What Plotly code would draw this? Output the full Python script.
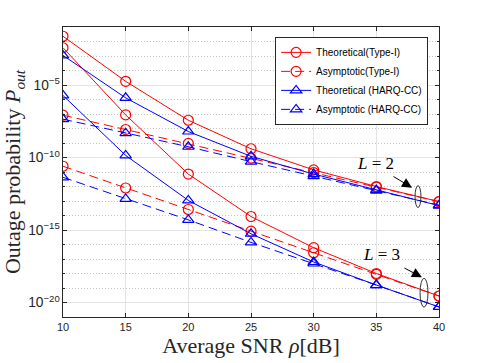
import plotly.graph_objects as go

snr_db = [10, 15, 20, 25, 30, 35, 40]

# outage probability
theo_type1_L2 = [2.3e-2, 1.8e-5, 3.7e-8, 4.0e-10, 1.4e-11, 1.0e-12, 9.1e-14]
theo_type1_L3 = [3.7e-3, 8.7e-8, 7.2e-12, 8.5e-15, 6.0e-17, 1.0e-18, 2.8e-20]
asym_type1_L2 = [8.3e-8, 8.5e-9, 9.3e-10, 9.0e-11, 9.0e-12, 9.0e-13, 9.0e-14]
asym_type1_L3 = [2.5e-11, 7.9e-13, 2.6e-14, 8.3e-16, 2.7e-17, 8.7e-19, 2.8e-20]
theo_cc_L2 = [1.1e-3, 1.3e-6, 6.2e-9, 1.2e-10, 7.2e-12, 5.8e-13, 4.8e-14]
theo_cc_L3 = [1.9e-6, 1.4e-10, 1.1e-13, 5.5e-16, 6.2e-18, 1.6e-19, 4.9e-21]
asym_cc_L2 = [4.4e-8, 4.8e-9, 5.5e-10, 5.2e-11, 5.2e-12, 5.2e-13, 5.2e-14]
asym_cc_L3 = [4.3e-12, 1.4e-13, 5.0e-15, 1.4e-16, 4.9e-18, 1.6e-19, 5.0e-21]

RED = "#ff0000"
BLUE = "#0000ff"
DASH = "9px,5px"

series = [
    ("Theoretical(Type-I)", theo_type1_L2, theo_type1_L3, RED, "solid", "circle-open"),
    ("Asymptotic(Type-I)", asym_type1_L2, asym_type1_L3, RED, DASH, "circle-open"),
    ("Theoretical (HARQ-CC)", theo_cc_L2, theo_cc_L3, BLUE, "solid", "triangle-up-open"),
    ("Asymptotic (HARQ-CC)", asym_cc_L2, asym_cc_L3, BLUE, DASH, "triangle-up-open"),
]

fig = go.Figure()
for name, y2, y3, color, dash, symbol in series:
    for i, y in enumerate([y2, y3]):
        fig.add_trace(go.Scatter(
            x=snr_db, y=y, name=name, showlegend=(i == 0),
            mode="lines+markers",
            line=dict(color=color, width=1, dash=dash),
            marker=dict(symbol=symbol, size=10, color=color, line=dict(color=color, width=1.2)),
        ))

AX = "#262626"
GRID = "#e3e3e3"
tick_font = dict(family="Liberation Sans, Arial, sans-serif", size=11, color=AX)
title_font = dict(family="Liberation Serif, Times New Roman, serif", size=22, color=AX)

fig.update_xaxes(
    range=[10, 40], dtick=5, tick0=10, automargin=False,
    showgrid=True, gridcolor=GRID, gridwidth=1,
    showline=True, linecolor=AX, linewidth=1, mirror="ticks",
    ticks="inside", ticklen=4, tickcolor=AX, tickfont=tick_font,
    zeroline=False,
    title=dict(text="Average SNR <i>ρ</i>[dB]", font=title_font, standoff=4),
)
fig.update_yaxes(
    type="log", range=[-21, -1], dtick=5, tick0=0, exponentformat="power", automargin=False,
    showgrid=True, gridcolor=GRID, gridwidth=1,
    minor=dict(dtick=1, tick0=0, showgrid=True, gridcolor="#c4c4c4", griddash="1px,2px",
               ticks="inside", ticklen=2, tickcolor=AX),
    showline=True, linecolor=AX, linewidth=1, mirror="ticks",
    ticks="inside", ticklen=4, tickcolor=AX, tickfont=tick_font,
    zeroline=False,
    title=dict(text="Outage probability <i>P</i><sub><i>out</i></sub>", font=title_font, standoff=2),
)

note_font = dict(family="Liberation Serif, Times New Roman, serif", size=17, color="black")
fig.add_annotation(x=34.97, y=-10.43, text="<i>L</i> = 2", showarrow=False, font=note_font)
fig.add_annotation(x=35.45, y=-16.68, text="<i>L</i> = 3", showarrow=False, font=note_font)
fig.add_annotation(x=37.85, y=-12.08, ax=-20, ay=-12, text="", showarrow=True,
                   arrowhead=2, arrowsize=2, arrowwidth=1, arrowcolor="black")
fig.add_annotation(x=38.64, y=-18.26, ax=-19, ay=-10, text="", showarrow=True,
                   arrowhead=2, arrowsize=2, arrowwidth=1, arrowcolor="black")
# ellipses around the curve pairs, y in axis-domain fraction of the [-21, -1] log range
fig.add_shape(type="circle", xref="x", yref="y domain", x0=38.09, x1=38.56, y0=0.3775, y1=0.453,
              line=dict(color="#333333", width=1))
fig.add_shape(type="circle", xref="x", yref="y domain", x0=38.49, x1=39.12, y0=0.034, y1=0.1335,
              line=dict(color="#333333", width=1))

fig.update_layout(
    width=485, height=363, autosize=False,
    margin=dict(l=63, r=46, t=27, b=46),
    paper_bgcolor="white", plot_bgcolor="white",
    legend=dict(x=0.971, y=0.966, xanchor="right", yanchor="top",
                bgcolor="white", bordercolor=AX, borderwidth=1,
                font=dict(family="Liberation Sans, Arial, sans-serif", size=10, color="black"),
                tracegroupgap=0, itemwidth=30),
    showlegend=True,
)

# drop the default 8px body margin so the figure fills the window exactly
fig.write_html("out.html", config={"displayModeBar": False},
               post_script="document.body.style.margin = '0';")
